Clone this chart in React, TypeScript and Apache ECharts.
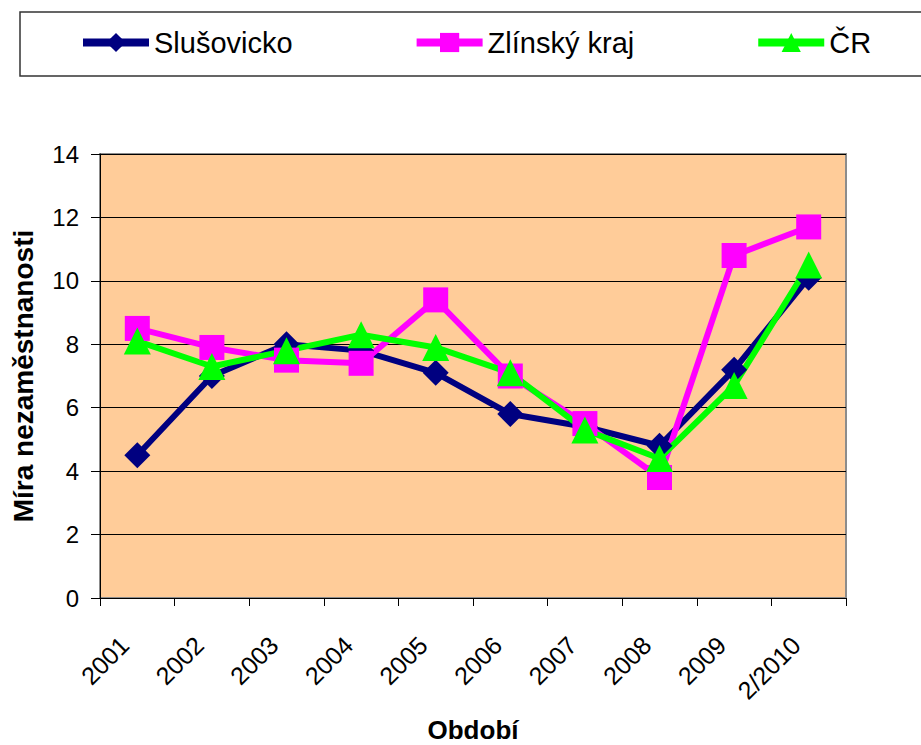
import React, { useEffect, useRef } from "react";
import * as echarts from "echarts";

const categories = ["2001", "2002", "2003", "2004", "2005", "2006", "2007", "2008", "2009", "2/2010"];
const slusovicko = [4.5, 7.0, 8.0, 7.8, 7.1, 5.8, 5.4, 4.8, 7.2, 10.1];
const zlinsky = [8.5, 7.9, 7.5, 7.4, 9.4, 7.0, 5.5, 3.8, 10.8, 11.7];
const cr = [8.1, 7.3, 7.8, 8.3, 7.9, 7.1, 5.3, 4.4, 6.7, 10.5];
const seriesNames = ["Slušovicko", "Zlínský kraj", "ČR"];

const FONT = 'Arial, "Liberation Sans", sans-serif';

export default function App() {
  const ref = useRef<HTMLDivElement>(null);
  useEffect(() => {
    document.body.style.margin = "0";
    const chart = echarts.init(ref.current!, null, { renderer: "svg" });
    const mk = (name: string, data: number[], color: string, symbol: string, size: number) => ({
      name,
      type: "line",
      data,
      symbol,
      symbolSize: size,
      showSymbol: true,
      lineStyle: { color, width: 6 },
      itemStyle: { color, borderWidth: 0 },
    });
    chart.setOption({
      animation: false,
      textStyle: { fontFamily: FONT },
      graphic: [
        {
          type: "rect",
          shape: { x: 20, y: 12, width: 930, height: 64 },
          style: { fill: "none", stroke: "#333", lineWidth: 1.5 },
          z: 10,
        },
      ],
      legend: {
        data: seriesNames,
        left: 79,
        top: 28,
        padding: 0,
        itemWidth: 66,
        itemHeight: 24,
        itemGap: 120,
        textStyle: { fontSize: 29, color: "#000", fontFamily: FONT },
        lineStyle: { width: 8 },
      },
      grid: {
        left: 100,
        right: 75,
        top: 154,
        bottom: 147,
        outerBoundsMode: "none",
        containLabel: false,
        show: true,
        backgroundColor: "#FFCC99",
        borderColor: "#8c8c8c",
        borderWidth: 2,
      },
      xAxis: {
        type: "category",
        data: categories,
        boundaryGap: true,
        name: "Období",
        nameLocation: "middle",
        nameGap: 119,
        nameTextStyle: { fontSize: 26, fontWeight: "bold", color: "#000", fontFamily: FONT },
        axisLine: { show: true, lineStyle: { color: "#000", width: 1 } },
        axisTick: { show: true, interval: 0, length: 8, lineStyle: { color: "#000" } },
        axisLabel: {
          rotate: 45,
          fontSize: 25,
          color: "#000",
          margin: 30,
          interval: 0,
          align: "right",
          verticalAlign: "middle",
          padding: [0, 18, 36, 0],
          fontFamily: FONT,
        },
      },
      yAxis: {
        type: "value",
        min: 0,
        max: 14,
        interval: 2,
        name: "Míra nezaměstnanosti",
        nameLocation: "middle",
        nameRotate: 90,
        nameGap: 63,
        nameTextStyle: { fontSize: 28, fontWeight: "bold", color: "#000", fontFamily: FONT },
        axisLine: { show: true, lineStyle: { color: "#000", width: 1 } },
        axisTick: { show: true, length: 9, lineStyle: { color: "#000" } },
        axisLabel: { fontSize: 24, color: "#000", margin: 21, fontFamily: FONT },
        splitLine: { show: true, lineStyle: { color: "#000", width: 1 } },
      },
      series: [
        mk(seriesNames[0], slusovicko, "#000080", "diamond", 26),
        mk(seriesNames[1], zlinsky, "#FF00FF", "rect", 25),
        mk(seriesNames[2], cr, "#00FF00", "triangle", 27),
      ],
    });
    return () => chart.dispose();
  }, []);
  return (
    <div
      ref={ref}
      style={{ position: "fixed", left: 0, top: 0, width: 921, height: 745, background: "#fff" }}
    />
  );
}
